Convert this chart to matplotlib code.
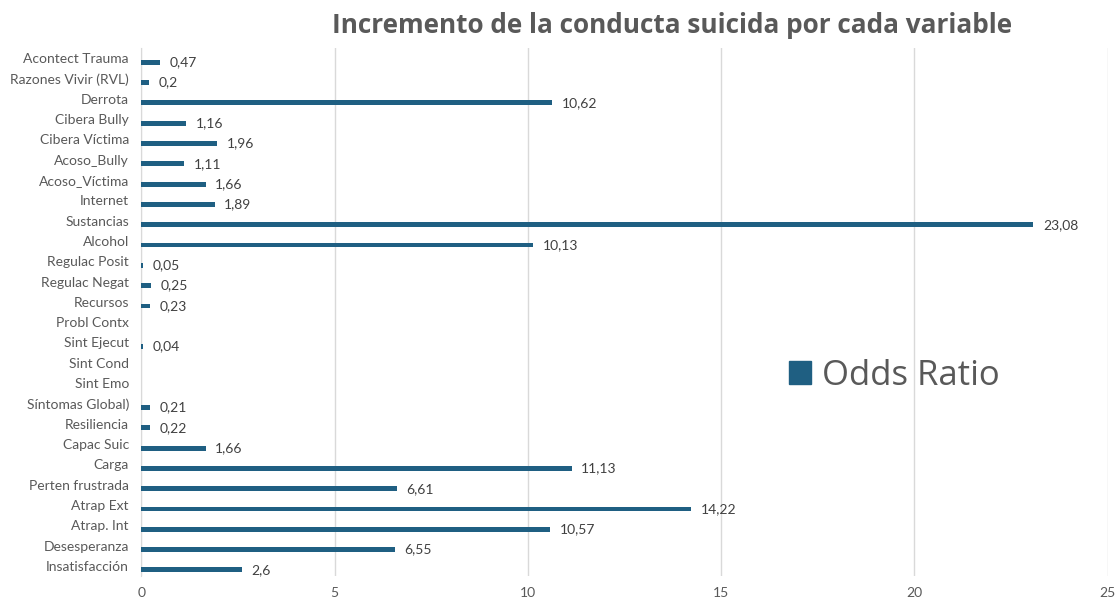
import numpy as np
import matplotlib
matplotlib.use('Agg')
import matplotlib.pyplot as plt
from matplotlib.patches import Patch

# categories listed bottom -> top
categories = ['Insatisfacción', 'Desesperanza', 'Atrap. Int', 'Atrap Ext',
              'Perten frustrada', 'Carga', 'Capac Suic', 'Resiliencia',
              'Síntomas Global)', 'Sint Emo', 'Sint Cond', 'Sint Ejecut',
              'Probl Contx', 'Recursos', 'Regulac Negat', 'Regulac Posit',
              'Alcohol', 'Sustancias', 'Internet', 'Acoso_Víctima',
              'Acoso_Bully', 'Cibera Víctima', 'Cibera Bully', 'Derrota',
              'Razones Vivir (RVL)', 'Acontect Trauma']
odds = [2.6, 6.55, 10.57, 14.22, 6.61, 11.13, 1.66, 0.22, 0.21, None, None,
        0.04, None, 0.23, 0.25, 0.05, 10.13, 23.08, 1.89, 1.66, 1.11, 1.96,
        1.16, 10.62, 0.2, 0.47]
xticks = [0, 5, 10, 15, 20, 25]

plt.rcParams['font.family'] = ['Lato', 'DejaVu Sans']
grey = '#595959'
bar_col = '#1f5f82'

fig = plt.figure(figsize=(11.2, 6.01), dpi=100)
ax = fig.add_axes([0.1263, 0.0416, 0.8627, 0.8784])

y = np.arange(len(categories))
vals = np.array([np.nan if v is None else v for v in odds])
ax.barh(y - 0.2, np.nan_to_num(vals), height=0.24, color=bar_col,
        label='Odds Ratio', zorder=3)

# data labels
for yi, v in zip(y, odds):
    if v is None:
        continue
    ax.annotate(str(v).replace('.', ','), (v, yi - 0.2), xytext=(7, 0),
                textcoords='offset points', va='center', ha='left',
                fontsize=10, color='#404040')

ax.set_xlim(0, 25)
ax.set_ylim(-0.5, len(categories) - 0.5)
ax.set_xticks(xticks)
ax.set_xticklabels([str(t) for t in xticks])
ax.set_yticks(y)
ax.set_yticklabels(categories)
ax.tick_params(axis='y', length=0, pad=9, labelsize=10, labelcolor=grey)
ax.tick_params(axis='x', length=0, pad=8, labelsize=10, labelcolor=grey)
ax.grid(axis='x', color='#d9d9d9', linewidth=1, zorder=0)
for s in ['top', 'right', 'bottom']:
    ax.spines[s].set_visible(False)
ax.spines['left'].set_color('#d9d9d9')

fig.text(0.6004, 0.958, 'Incremento de la conducta suicida por cada variable',
         ha='center', va='center', fontsize=18.8, fontweight='bold',
         color=grey, family=['Open Sans', 'DejaVu Sans'])

ax.legend(handles=[Patch(color=bar_col)], labels=['Odds Ratio'],
          loc='center left', bbox_to_anchor=(0.670, 0.379), frameon=False,
          prop={'family': 'Open Sans', 'size': 25}, handlelength=0.63,
          handleheight=0.63, handletextpad=0.32, borderpad=0,
          borderaxespad=0, labelcolor=grey)

fig.savefig('out.png', dpi=100)
